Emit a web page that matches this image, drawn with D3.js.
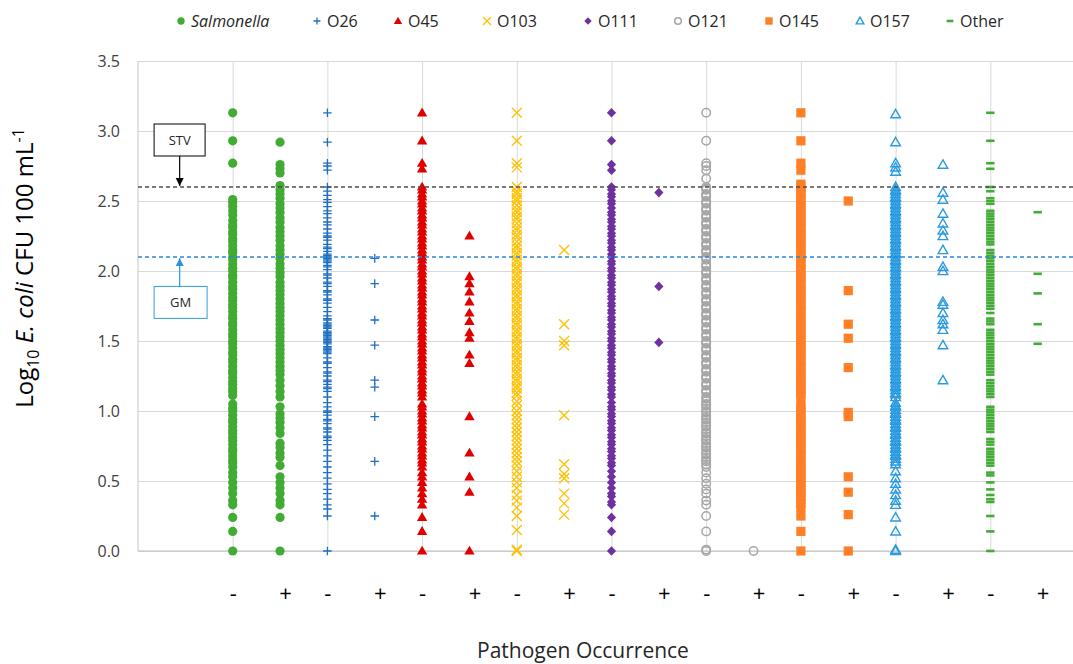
<!DOCTYPE html>
<html>
<head>
<meta charset="utf-8">
<script src="https://cdn.jsdelivr.net/npm/d3@7"></script>
<style>
  body { margin: 0; background: #ffffff; }
  svg { font-family: "Open Sans", "Noto Sans", sans-serif; }
</style>
</head>
<body>
<div id="chart"></div>
<script>
var svgWidth = 1073;
var svgHeight = 664;

var margin = { top: 61, left: 138 };
var width = 947;   // x runs 0..10, plot is cut off by the page edge
var height = 490;  // y runs 0..3.5

// Categories and tick labels
var categories = ["Salmonella", "O26", "O45", "O103", "O111", "O121", "O145", "O157", "Other"];
var occurrence = ["-", "+"];
var yTicks = [0, 0.5, 1, 1.5, 2, 2.5, 3, 3.5];
var stvValue = 2.6;
var gmValue = 2.1;

// Log10 E. coli values, pathogen absent (-) and present (+)
var salmonellaNeg = [3.13, 2.93, 2.77, 2.51, 2.49, 2.46, 2.43, 2.40, 2.36, 2.33, 2.31, 2.28, 2.26, 2.23, 2.21, 2.18,
  2.15, 2.13, 2.10, 2.08, 2.05, 2.02, 2.00, 1.97, 1.95, 1.92, 1.89, 1.87, 1.84, 1.81, 1.79, 1.76, 1.74, 1.71, 1.68,
  1.66, 1.63, 1.61, 1.58, 1.55, 1.53, 1.50, 1.48, 1.45, 1.42, 1.40, 1.37, 1.35, 1.32, 1.29, 1.27, 1.24, 1.21, 1.19,
  1.16, 1.14, 1.11, 1.05, 1.02, 1.00, 0.97, 0.94, 0.92, 0.89, 0.86, 0.84, 0.81, 0.79, 0.76, 0.73, 0.71, 0.68, 0.65,
  0.63, 0.60, 0.56, 0.53, 0.49, 0.45, 0.41, 0.36, 0.33, 0.24, 0.14, 0];
var salmonellaPos = [2.92, 2.76, 2.73, 2.70, 2.61, 2.58, 2.55, 2.52, 2.48, 2.45, 2.42, 2.38, 2.35, 2.31, 2.28, 2.25,
  2.22, 2.18, 2.15, 2.12, 2.09, 2.05, 2.02, 1.99, 1.96, 1.92, 1.89, 1.86, 1.83, 1.80, 1.77, 1.74, 1.71, 1.68, 1.65,
  1.62, 1.59, 1.56, 1.53, 1.50, 1.47, 1.44, 1.41, 1.38, 1.35, 1.32, 1.29, 1.26, 1.22, 1.18, 1.14, 1.10, 1.03, 0.98,
  0.95, 0.92, 0.88, 0.84, 0.77, 0.74, 0.70, 0.67, 0.61, 0.53, 0.49, 0.45, 0.41, 0.36, 0.33, 0.24, 0];

var o26Neg = [3.13, 2.92, 2.77, 2.75, 2.72, 2.60, 2.57, 2.54, 2.51, 2.49, 2.46, 2.43, 2.41, 2.38, 2.35, 2.33, 2.30,
  2.27, 2.25, 2.22, 2.19, 2.17, 2.14, 2.12, 2.10, 2.08, 2.06, 2.03, 2.01, 1.98, 1.95, 1.92, 1.89, 1.86, 1.83, 1.80,
  1.77, 1.74, 1.71, 1.68, 1.65, 1.63, 1.61, 1.59, 1.56, 1.54, 1.52, 1.50, 1.48, 1.45, 1.43, 1.41, 1.38, 1.35, 1.31,
  1.28, 1.25, 1.22, 1.19, 1.17, 1.14, 1.10, 1.06, 1.03, 1.00, 0.97, 0.94, 0.91, 0.88, 0.85, 0.82, 0.79, 0.76, 0.72,
  0.68, 0.64, 0.60, 0.56, 0.52, 0.48, 0.44, 0.41, 0.37, 0.33, 0.30, 0.25, 0,
  2.24, 2.16, 2.11, 2.09, 2.07, 2.04, 1.97, 1.91, 1.85, 1.79, 1.66, 1.62, 1.60, 1.57, 1.55, 1.53, 1.51, 1.49, 1.46,
  1.44, 1.42, 1.34, 1.27, 1.21, 1.16, 0.99, 0.93, 0.87, 0.81];
var o26Pos = [2.09, 1.91, 1.65, 1.47, 1.22, 1.17, 0.96, 0.64, 0.25];

var o45Neg = [3.13, 2.93, 2.77, 2.73, 2.60, 2.58, 2.55, 2.53, 2.50, 2.48, 2.45, 2.43, 2.40, 2.38, 2.35, 2.33, 2.30,
  2.28, 2.25, 2.23, 2.20, 2.18, 2.15, 2.13, 2.10, 2.08, 2.05, 2.03, 2.00, 1.98, 1.95, 1.93, 1.90, 1.88, 1.85, 1.83,
  1.80, 1.78, 1.75, 1.73, 1.70, 1.68, 1.65, 1.63, 1.60, 1.58, 1.55, 1.53, 1.50, 1.48, 1.45, 1.43, 1.40, 1.38, 1.35,
  1.33, 1.30, 1.28, 1.25, 1.23, 1.20, 1.18, 1.15, 1.13, 1.10, 1.05, 1.03, 1.00, 0.98, 0.95, 0.93, 0.90, 0.88, 0.85,
  0.83, 0.80, 0.78, 0.75, 0.73, 0.70, 0.68, 0.65, 0.63, 0.60, 0.56, 0.53, 0.49, 0.45, 0.41, 0.37, 0.33, 0.24, 0.14, 0];
var o45Pos = [2.25, 1.96, 1.91, 1.85, 1.78, 1.70, 1.64, 1.56, 1.52, 1.40, 1.34, 0.96, 0.70, 0.53, 0.42, 0];

var o103Neg = [3.13, 2.93, 2.77, 2.74, 2.60, 2.57, 2.55, 2.52, 2.50, 2.47, 2.44, 2.42, 2.39, 2.37, 2.34, 2.31, 2.29,
  2.26, 2.24, 2.21, 2.18, 2.16, 2.13, 2.11, 2.08, 2.06, 2.03, 2.01, 1.98, 1.96, 1.93, 1.91, 1.88, 1.86, 1.83, 1.81,
  1.78, 1.76, 1.73, 1.71, 1.68, 1.66, 1.63, 1.61, 1.58, 1.56, 1.53, 1.51, 1.48, 1.46, 1.43, 1.41, 1.38, 1.36, 1.33,
  1.31, 1.28, 1.26, 1.23, 1.21, 1.18, 1.16, 1.13, 1.11, 1.07, 1.04, 1.00, 0.97, 0.94, 0.91, 0.88, 0.85, 0.82, 0.79,
  0.76, 0.73, 0.70, 0.67, 0.64, 0.61, 0.57, 0.53, 0.49, 0.45, 0.40, 0.36, 0.31, 0.25, 0.15, 0.01, 0];
var o103Pos = [2.15, 1.62, 1.50, 1.47, 0.97, 0.62, 0.55, 0.52, 0.41, 0.34, 0.26];

var o111Neg = [3.13, 2.93, 2.76, 2.72, 2.60, 2.58, 2.55, 2.53, 2.50, 2.48, 2.45, 2.42, 2.40, 2.37, 2.35, 2.32, 2.30,
  2.27, 2.25, 2.22, 2.20, 2.17, 2.15, 2.12, 2.10, 2.07, 2.05, 2.02, 2.00, 1.97, 1.95, 1.92, 1.90, 1.87, 1.85, 1.82,
  1.80, 1.77, 1.75, 1.72, 1.70, 1.67, 1.65, 1.62, 1.60, 1.57, 1.55, 1.52, 1.50, 1.47, 1.45, 1.42, 1.40, 1.37, 1.35,
  1.32, 1.30, 1.27, 1.25, 1.22, 1.20, 1.17, 1.15, 1.12, 1.10, 1.06, 1.03, 1.01, 0.98, 0.96, 0.93, 0.91, 0.88, 0.86,
  0.83, 0.81, 0.78, 0.76, 0.73, 0.71, 0.68, 0.66, 0.63, 0.61, 0.57, 0.53, 0.49, 0.45, 0.41, 0.39, 0.35, 0.33, 0.24,
  0.14, 0];
var o111Pos = [2.56, 1.89, 1.49];

var o121Neg = [3.13, 2.93, 2.77, 2.75, 2.72, 2.66, 2.60, 2.58, 2.55, 2.53, 2.50, 2.48, 2.45, 2.43, 2.40, 2.38, 2.35,
  2.33, 2.30, 2.28, 2.25, 2.23, 2.20, 2.18, 2.15, 2.13, 2.10, 2.08, 2.05, 2.03, 2.00, 1.98, 1.95, 1.93, 1.90, 1.88,
  1.85, 1.83, 1.80, 1.78, 1.75, 1.73, 1.70, 1.68, 1.65, 1.63, 1.60, 1.58, 1.55, 1.53, 1.50, 1.48, 1.45, 1.43, 1.40,
  1.38, 1.35, 1.33, 1.30, 1.28, 1.25, 1.23, 1.20, 1.18, 1.15, 1.13, 1.10, 1.07, 1.05, 1.02, 1.00, 0.97, 0.95, 0.92,
  0.90, 0.87, 0.85, 0.82, 0.80, 0.77, 0.75, 0.72, 0.70, 0.67, 0.65, 0.62, 0.60, 0.56, 0.52, 0.48, 0.44, 0.41, 0.36,
  0.33, 0.25, 0.14, 0.01, 0,
  2.59, 2.54, 2.49, 2.44, 2.39, 2.34, 2.29, 2.24, 2.19, 2.14, 2.09, 2.04, 1.99, 1.94, 1.89, 1.84, 1.79, 1.74, 1.69,
  1.64, 1.59, 1.54, 1.49, 1.44, 1.39, 1.34, 1.29, 1.24, 1.19, 1.14, 1.09, 1.04, 0.99, 0.94, 0.89, 0.84, 0.79, 0.74,
  0.69, 0.64];
var o121Pos = [0];

var o145Neg = [3.13, 2.93, 2.77, 2.72, 2.62, 2.60, 2.57, 2.55, 2.52, 2.50, 2.47, 2.45, 2.42, 2.40, 2.37, 2.35, 2.32,
  2.30, 2.27, 2.25, 2.22, 2.20, 2.17, 2.15, 2.12, 2.10, 2.07, 2.05, 2.02, 2.00, 1.97, 1.95, 1.92, 1.90, 1.87, 1.85,
  1.82, 1.80, 1.77, 1.75, 1.72, 1.70, 1.67, 1.65, 1.62, 1.60, 1.57, 1.55, 1.52, 1.50, 1.47, 1.45, 1.42, 1.40, 1.37,
  1.35, 1.32, 1.30, 1.27, 1.25, 1.22, 1.20, 1.17, 1.15, 1.12, 1.10, 1.04, 1.02, 0.99, 0.97, 0.94, 0.92, 0.89, 0.87,
  0.84, 0.82, 0.79, 0.77, 0.74, 0.72, 0.69, 0.67, 0.64, 0.62, 0.59, 0.57, 0.54, 0.52, 0.49, 0.47, 0.44, 0.42, 0.39,
  0.37, 0.34, 0.31, 0.25, 0.14, 0];
var o145Pos = [2.50, 1.86, 1.62, 1.52, 1.31, 0.99, 0.96, 0.53, 0.42, 0.26, 0];

var o157Neg = [3.12, 2.92, 2.77, 2.74, 2.71, 2.60, 2.58, 2.55, 2.53, 2.50, 2.48, 2.45, 2.43, 2.40, 2.38, 2.35, 2.33,
  2.30, 2.28, 2.25, 2.23, 2.20, 2.18, 2.15, 2.13, 2.10, 2.08, 2.05, 2.03, 2.00, 1.98, 1.95, 1.93, 1.90, 1.88, 1.85,
  1.83, 1.80, 1.78, 1.75, 1.73, 1.70, 1.68, 1.65, 1.63, 1.60, 1.58, 1.55, 1.53, 1.50, 1.48, 1.45, 1.43, 1.40, 1.38,
  1.35, 1.33, 1.30, 1.28, 1.25, 1.23, 1.20, 1.18, 1.15, 1.13, 1.10, 1.06, 1.04, 1.01, 0.99, 0.96, 0.94, 0.91, 0.89,
  0.86, 0.84, 0.81, 0.79, 0.76, 0.74, 0.71, 0.69, 0.66, 0.64, 0.62, 0.57, 0.52, 0.48, 0.44, 0.40, 0.36, 0.33, 0.24,
  0.14, 0.01, 0,
  2.57, 2.52, 2.47, 2.42, 2.37, 2.32, 2.27, 2.22, 2.17, 2.12, 2.07, 2.02, 1.97, 1.92, 1.87, 1.82, 1.77, 1.72, 1.67,
  1.62, 1.57, 1.52, 1.47, 1.42, 1.37, 1.32, 1.27, 1.22, 1.17, 1.12, 1.03, 0.98, 0.93, 0.88, 0.83, 0.78, 0.73, 0.68];
var o157Pos = [2.76, 2.56, 2.51, 2.41, 2.34, 2.29, 2.25, 2.15, 2.03, 2.00, 1.78, 1.76, 1.70, 1.65, 1.62, 1.58, 1.47, 1.22];

var otherNeg = [3.13, 2.93, 2.77, 2.73, 2.60, 2.57, 2.52, 2.50, 2.48, 2.43, 2.41, 2.39, 2.37, 2.35, 2.33, 2.31, 2.29,
  2.27, 2.25, 2.23, 2.21, 2.19, 2.15, 2.13, 2.11, 2.09, 2.07, 2.05, 2.03, 2.01, 1.99, 1.97, 1.95, 1.93, 1.91, 1.89,
  1.87, 1.85, 1.83, 1.81, 1.79, 1.77, 1.75, 1.73, 1.70, 1.66, 1.64, 1.62, 1.58, 1.56, 1.54, 1.52, 1.50, 1.48, 1.46,
  1.44, 1.42, 1.40, 1.38, 1.36, 1.34, 1.32, 1.30, 1.28, 1.26, 1.22, 1.20, 1.18, 1.16, 1.14, 1.12, 1.10, 1.03, 1.01,
  0.99, 0.97, 0.95, 0.93, 0.91, 0.89, 0.87, 0.85, 0.80, 0.78, 0.76, 0.73, 0.71, 0.69, 0.67, 0.65, 0.63, 0.61, 0.56,
  0.54, 0.49, 0.44, 0.40, 0.37, 0.35, 0.25, 0.14, 0];
var otherPos = [2.42, 1.98, 1.84, 1.62, 1.48];

// one [neg, pos] pair per category
var columnValues = [
  [salmonellaNeg, salmonellaPos], [o26Neg, o26Pos], [o45Neg, o45Pos], [o103Neg, o103Pos], [o111Neg, o111Pos],
  [o121Neg, o121Pos], [o145Neg, o145Pos], [o157Neg, o157Pos], [otherNeg, otherPos]
];

// marker look for each category
var markerStyles = [
  { shape: "dot", color: "#41ab34" },
  { shape: "plus", color: "#1f6fc5" },
  { shape: "triangle", color: "#e00000" },
  { shape: "cross", color: "#ffc000" },
  { shape: "diamond", color: "#7030a0" },
  { shape: "ring", color: "#a6a6a6" },
  { shape: "square", color: "#fe7f25" },
  { shape: "openTriangle", color: "#2b9be0" },
  { shape: "dash", color: "#41ab34" }
];
var legendMarkerX = [181, 317, 398, 487, 588, 678, 769, 860, 950];

// draws one marker shape into a selection of <g>
function drawMarker(sel, style, k) {
  var c = style.color;
  switch (style.shape) {
    case "dot":
      sel.append("circle").attr("r", 4.6 * k).attr("fill", c);
      break;
    case "plus":
      sel.append("path").attr("d", `M${-4.3 * k},0H${4.3 * k}M0,${-4.3 * k}V${4.3 * k}`)
        .attr("stroke", c).attr("stroke-width", 1.3).attr("fill", "none");
      break;
    case "triangle":
      sel.append("path").attr("d", `M0,${-5.3 * k}L${5.2 * k},${3.6 * k}L${-5.2 * k},${3.6 * k}Z`).attr("fill", c);
      break;
    case "cross":
      sel.append("path").attr("d", `M${-5 * k},${-5 * k}L${5 * k},${5 * k}M${-5 * k},${5 * k}L${5 * k},${-5 * k}`)
        .attr("stroke", c).attr("stroke-width", 1.3).attr("fill", "none");
      break;
    case "diamond":
      sel.append("path").attr("d", `M0,${-4.8 * k}L${4.6 * k},0L0,${4.8 * k}L${-4.6 * k},0Z`).attr("fill", c);
      break;
    case "ring":
      sel.append("circle").attr("r", 4.2 * k).attr("fill", "none").attr("stroke", c).attr("stroke-width", 1.5);
      break;
    case "square":
      sel.append("rect").attr("x", -4.6 * k).attr("y", -4.6 * k).attr("width", 9.2 * k).attr("height", 9.2 * k)
        .attr("fill", c);
      break;
    case "openTriangle":
      sel.append("path").attr("d", `M0,${-4.8 * k}L${4.8 * k},${3.6 * k}L${-4.8 * k},${3.6 * k}Z`)
        .attr("fill", "none").attr("stroke", c).attr("stroke-width", 1.4);
      break;
    case "dash":
      sel.append("path").attr("d", `M${-4.2 * k},0H${4.2 * k}`).attr("stroke", c).attr("stroke-width", 2.6);
      break;
  }
}

var svg = d3.select("#chart")
  .append("svg")
  .attr("width", svgWidth)
  .attr("height", svgHeight);

var defs = svg.append("defs");
[["arrowBlack", "#000000"], ["arrowBlue", "#2e95dd"]].forEach(function(a) {
  defs.append("marker")
    .attr("id", a[0])
    .attr("viewBox", "0 0 10 10")
    .attr("refX", 10).attr("refY", 5)
    .attr("markerWidth", 7).attr("markerHeight", 7)
    .attr("orient", "auto")
    .append("path").attr("d", "M0,0L10,5L0,10Z").attr("fill", a[1]);
});

var chartGroup = svg.append("g")
  .attr("transform", `translate(${margin.left}, ${margin.top})`);

var xLinearScale = d3.scaleLinear().domain([0, 10]).range([0, width]);
var yLinearScale = d3.scaleLinear().domain([0, 3.5]).range([height, 0]);

// horizontal gridlines
chartGroup.append("g")
  .call(d3.axisLeft(yLinearScale).tickValues(yTicks).tickSize(-width).tickFormat(""))
  .call(g => g.select(".domain").remove())
  .selectAll("line").attr("stroke", "#d9d9d9");

// vertical gridlines at each "-" column
chartGroup.append("g")
  .attr("transform", `translate(0, ${height})`)
  .call(d3.axisBottom(xLinearScale).tickValues(d3.range(1, 10)).tickSize(-height).tickFormat(""))
  .call(g => g.select(".domain").remove())
  .selectAll("line").attr("stroke", "#d9d9d9");

// axis lines
chartGroup.append("line")
  .attr("x1", 0).attr("x2", 0).attr("y1", 0).attr("y2", height)
  .attr("stroke", "#c6c6c6");
chartGroup.append("line")
  .attr("x1", 0).attr("x2", width).attr("y1", height).attr("y2", height)
  .attr("stroke", "#bfbfbf");

// y tick labels
chartGroup.append("g")
  .call(d3.axisLeft(yLinearScale).tickValues(yTicks).tickFormat(d3.format(".1f")).tickSize(0).tickPadding(18))
  .call(g => g.select(".domain").remove())
  .selectAll("text")
  .attr("font-size", 16)
  .attr("font-family", "Open Sans")
  .attr("fill", "#404040");

// "-" / "+" labels under each column
var columnPositions = [];
categories.forEach(function(c, i) {
  occurrence.forEach(function(o, j) { columnPositions.push(i + 1 + j * 0.5); });
});
chartGroup.append("g")
  .attr("transform", `translate(0, ${height})`)
  .call(d3.axisBottom(xLinearScale).tickValues(columnPositions)
    .tickFormat(d => Number.isInteger(d) ? occurrence[0] : occurrence[1])
    .tickSize(0).tickPadding(34))
  .call(g => g.select(".domain").remove())
  .selectAll("text")
  .attr("font-size", 22)
  .attr("font-family", "Open Sans")
  .attr("fill", "#000000")
  .attr("dx", d => Number.isInteger(d) ? 0 : 5);

// points
var points = [];
columnValues.forEach(function(pair, i) {
  pair.forEach(function(vals, j) {
    vals.forEach(function(v) { points.push({ cat: i, x: i + 1 + j * 0.5, y: v }); });
  });
});

chartGroup.selectAll(".pt")
  .data(points)
  .enter()
  .append("g")
  .attr("class", "pt")
  .attr("transform", d => `translate(${xLinearScale(d.x)}, ${yLinearScale(d.y)})`)
  .each(function(d) { drawMarker(d3.select(this), markerStyles[d.cat], 1); });

// reference lines
chartGroup.append("line")
  .attr("x1", 0).attr("x2", width)
  .attr("y1", yLinearScale(stvValue)).attr("y2", yLinearScale(stvValue))
  .attr("stroke", "#4d4d4d").attr("stroke-width", 1.3).attr("stroke-dasharray", "4,3");
chartGroup.append("line")
  .attr("x1", 0).attr("x2", width)
  .attr("y1", yLinearScale(gmValue)).attr("y2", yLinearScale(gmValue))
  .attr("stroke", "#2a86dc").attr("stroke-width", 1.3).attr("stroke-dasharray", "4,3");

// STV and GM call-outs
var boxX = xLinearScale(0.44);
chartGroup.append("rect")
  .attr("x", xLinearScale(0.17)).attr("y", yLinearScale(3.05))
  .attr("width", 51).attr("height", 32)
  .attr("fill", "#ffffff").attr("stroke", "#000000");
chartGroup.append("text")
  .attr("x", boxX).attr("y", yLinearScale(3.05) + 16)
  .attr("dy", "0.35em").attr("text-anchor", "middle")
  .attr("font-size", 13).attr("fill", "#262626")
  .text("STV");
chartGroup.append("line")
  .attr("x1", boxX).attr("x2", boxX)
  .attr("y1", yLinearScale(3.05) + 32).attr("y2", yLinearScale(stvValue) - 1)
  .attr("stroke", "#000000").attr("stroke-width", 1.2)
  .attr("marker-end", "url(#arrowBlack)");

chartGroup.append("rect")
  .attr("x", xLinearScale(0.17)).attr("y", yLinearScale(1.89))
  .attr("width", 53).attr("height", 32)
  .attr("fill", "#ffffff").attr("stroke", "#2e9fe0");
chartGroup.append("text")
  .attr("x", boxX + 1).attr("y", yLinearScale(1.89) + 16)
  .attr("dy", "0.35em").attr("text-anchor", "middle")
  .attr("font-size", 13).attr("fill", "#262626")
  .text("GM");
chartGroup.append("line")
  .attr("x1", boxX).attr("x2", boxX)
  .attr("y1", yLinearScale(1.89)).attr("y2", yLinearScale(gmValue) + 1)
  .attr("stroke", "#2e95dd").attr("stroke-width", 1.2)
  .attr("marker-end", "url(#arrowBlue)");

// axis titles
var yTitle = svg.append("text")
  .attr("transform", "translate(33, 268) rotate(-90)")
  .attr("text-anchor", "middle")
  .attr("font-size", 24)
  .attr("fill", "#000000");
yTitle.append("tspan").text("Log");
yTitle.append("tspan").attr("font-size", 16).attr("dy", 6).text("10");
yTitle.append("tspan").attr("dy", -6).text(" ");
yTitle.append("tspan").attr("font-style", "italic").text("E. coli");
yTitle.append("tspan").text(" CFU 100 mL");
yTitle.append("tspan").attr("font-size", 16).attr("dy", -9).text("-1");

svg.append("text")
  .attr("x", 583).attr("y", 658)
  .attr("text-anchor", "middle")
  .attr("font-size", 21)
  .attr("fill", "#262626")
  .text("Pathogen Occurrence");

// legend
var legend = svg.append("g").attr("class", "legend");
categories.forEach(function(c, i) {
  var item = legend.append("g").attr("transform", `translate(${legendMarkerX[i]}, 21)`);
  drawMarker(item.append("g"), markerStyles[i], 0.8);
  item.append("text")
    .attr("x", 10).attr("dy", "0.35em")
    .attr("font-size", 16)
    .attr("fill", "#262626")
    .attr("font-style", i === 0 ? "italic" : "normal")
    .text(c);
});
</script>
</body>
</html>
